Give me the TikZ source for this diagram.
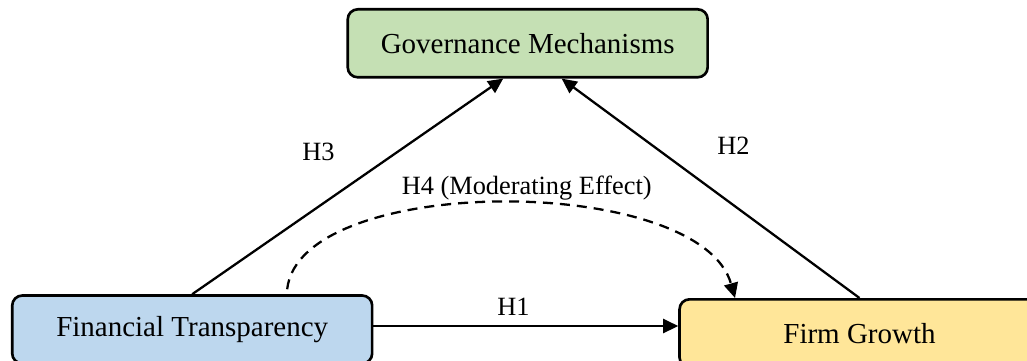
\documentclass[tikz,border=0pt]{standalone}
\usepackage{fontspec}
\setmainfont{Liberation Serif}
\usetikzlibrary{arrows.meta}

\definecolor{govgreen}{HTML}{C5E0B4}
\definecolor{finblue}{HTML}{BDD7EE}
\definecolor{growyellow}{HTML}{FFE699}

\tikzset{
  varbox/.style={draw=black, line width=1.5pt, rounded corners=0.2cm,
    minimum width=7.2cm, minimum height=1.36cm, inner sep=0pt,
    font=\fontsize{16.5}{19}\selectfont},
  hyp/.style={line width=1.3pt, -{Triangle[length=0.3cm,width=0.28cm]}},
  hyplabel/.style={font=\fontsize{15}{18}\selectfont, inner sep=0pt}
}

\begin{document}
\begin{tikzpicture}[x=0.02cm, y=-0.02cm]
\useasboundingbox (0,0) rectangle (1027,360);

\node[varbox, fill=govgreen] (gov) at (527.7,43.3) {Governance Mechanisms};
\node[varbox, fill=finblue] (fin) at (192.2,329.5) {Financial Transparency};
\node[varbox, fill=growyellow] (firm) at (859.5,333.3) {Firm Growth};

% direct paths
\draw[hyp] (fin.north) -- ([xshift=-0.49cm]gov.south);
\draw[hyp] (firm.north) -- ([xshift=0.68cm]gov.south);
\coordinate (h1start) at ([yshift=0.07cm]fin.east);
\draw[hyp] (h1start) -- (h1start -| firm.west);

% moderating path
\draw[hyp, dash pattern=on 0.2cm off 0.14cm]
  ([xshift=1.9cm,yshift=0.1cm]fin.north) .. controls (300,173) and (700,173) .. ([xshift=-2.49cm]firm.north);

\node[hyplabel] (h3) at (318.5,151.7) {H3};
\node[hyplabel] (h2) at (733.5,146) {H2};
\node[hyplabel] (h1) at (513.5,307) {H1};
\node[hyplabel] (h4) at (526.7,188) {H4 (Moderating Effect)};
\end{tikzpicture}
\end{document}
